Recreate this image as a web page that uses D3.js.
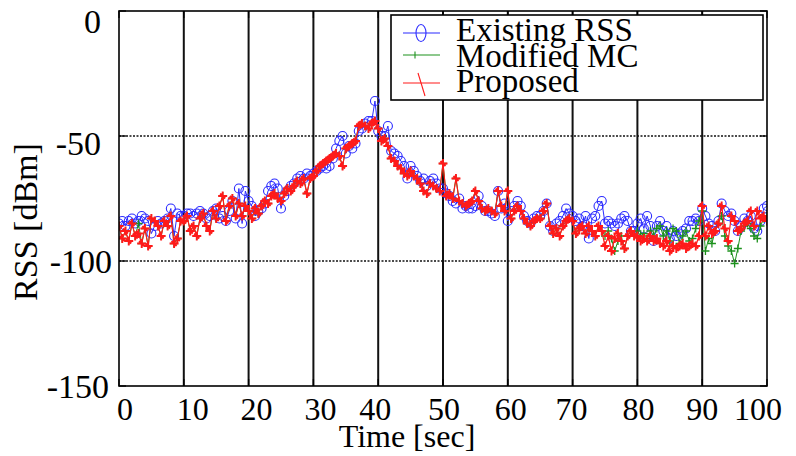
<!DOCTYPE html>
<html>
<head>
<meta charset="utf-8">
<script src="https://cdn.jsdelivr.net/npm/d3@7/dist/d3.min.js"></script>
<style>
  html, body { margin: 0; padding: 0; background: #fff; }
  svg { display: block; }
  text { font-family: "Liberation Serif", "Times New Roman", "DejaVu Serif", serif; fill: #000; }
</style>
</head>
<body>
<svg id="chart" width="796" height="456"></svg>
<script>
// RSS traces sampled every 0.5 s over 0..100 s
const xTicks = [0, 10, 20, 30, 40, 50, 60, 70, 80, 90, 100];
const yTicks = [0, -50, -100, -150];
const seriesNames = ["Existing RSS", "Modified MC", "Proposed"];

const existingRSS = [
  -85,-84,-86,-84,-83,-85,-84,-82,-83,-84,-89,-86,-84,-85,-84,-83,-79,-90,-81,-82,
  -82,-81,-81,-82,-81,-80,-81,-83,-82,-80,-79,-83,-82,-84,-80,-76,-83,-71,-85,-72,
  -76,-78,-82,-80,-79,-77,-72,-70,-69,-71,-79,-74,-72,-70,-69,-67,-66,-67,-65,-66,
  -65,-64,-63,-62,-63,-62,-59,-55,-52,-50,-57,-54,-55,-53,-48,-47,-45,-44,-44,-36,
  -48,-50,-50,-46,-56,-57,-58,-60,-62,-67,-62,-64,-66,-68,-67,-70,-68,-67,-69,-71,
  -71,-73,-74,-76,-77,-75,-79,-78,-79,-79,-78,-74,-78,-80,-80,-81,-82,-72,-79,-77,
  -84,-80,-78,-76,-78,-82,-84,-85,-83,-82,-82,-80,-77,-86,-88,-85,-84,-82,-79,-81,
  -82,-84,-83,-86,-82,-91,-83,-82,-78,-76,-85,-84,-85,-86,-85,-83,-82,-84,-88,-88,
  -85,-83,-87,-82,-86,-92,-86,-84,-88,-86,-91,-88,-90,-89,-88,-87,-84,-84,-83,-84,
  -79,-82,-85,-86,-88,-84,-77,-80,-82,-81,-84,-88,-86,-83,-84,-82,-87,-88,-84,-79,-78
];

const modifiedMC = [
  -86,-91,-88,-92,-85,-90,-85,-93,-87,-94,-83,-84,-86,-90,-84,-86,-82,-93,-91,-84,
  -84,-82,-88,-86,-90,-83,-81,-86,-88,-80,-83,-78,-74,-84,-78,-75,-82,-77,-82,-78,
  -80,-83,-79,-81,-78,-76,-77,-74,-73,-75,-76,-73,-71,-72,-70,-68,-69,-67,-73,-67,
  -66,-64,-62,-61,-60,-59,-58,-57,-58,-62,-55,-54,-53,-52,-46,-45,-46,-47,-45,-44,
  -47,-52,-51,-54,-59,-60,-62,-63,-65,-66,-64,-66,-67,-69,-72,-73,-69,-70,-71,-72,
  -61,-74,-73,-75,-67,-76,-77,-78,-77,-76,-72,-76,-79,-80,-79,-80,-81,-72,-78,-80,
  -72,-83,-80,-78,-80,-83,-85,-86,-84,-83,-83,-80,-77,-86,-89,-87,-90,-86,-84,-83,
  -84,-89,-87,-86,-89,-86,-88,-90,-86,-88,-90,-88,-91,-96,-92,-90,-95,-90,-88,-90,
  -88,-90,-89,-91,-88,-90,-87,-86,-90,-88,-92,-87,-88,-93,-90,-88,-92,-91,-87,-84,
  -80,-96,-91,-93,-88,-85,-82,-90,-94,-96,-101,-95,-88,-86,-85,-87,-90,-91,-86,-83,-82
];

const proposed = [
  -86,-91,-88,-92,-85,-90,-89,-93,-87,-94,-83,-84,-86,-90,-84,-86,-82,-93,-91,-84,
  -84,-82,-88,-86,-90,-83,-81,-86,-88,-80,-83,-78,-74,-84,-78,-75,-82,-77,-82,-78,
  -80,-83,-79,-81,-78,-76,-77,-74,-73,-75,-76,-73,-71,-72,-70,-68,-69,-67,-73,-67,
  -66,-64,-62,-61,-60,-59,-58,-57,-58,-62,-55,-54,-53,-52,-46,-45,-46,-47,-45,-44,
  -47,-52,-51,-54,-59,-60,-62,-63,-65,-66,-64,-66,-67,-69,-72,-73,-69,-70,-71,-72,
  -61,-74,-73,-75,-67,-76,-77,-78,-77,-76,-72,-76,-79,-80,-79,-80,-81,-72,-78,-80,
  -72,-83,-80,-78,-80,-83,-85,-86,-84,-83,-83,-80,-77,-86,-89,-87,-90,-86,-84,-83,
  -84,-89,-87,-86,-89,-86,-88,-90,-86,-88,-94,-90,-96,-91,-89,-92,-95,-90,-88,-90,
  -90,-92,-91,-92,-90,-92,-91,-93,-94,-92,-96,-94,-95,-94,-93,-95,-94,-93,-94,-90,
  -78,-90,-86,-89,-88,-85,-78,-87,-92,-82,-84,-88,-87,-85,-84,-80,-86,-80,-83,-82,-84
];

const times = d3.range(0, 100.5, 0.5);

const svg = d3.select("#chart");
const plot = { left: 119, right: 767, top: 11, bottom: 386 };

const x = d3.scaleLinear().domain([0, 100]).range([plot.left, plot.right]);
const y = d3.scaleLinear().domain([-150, 0]).range([plot.bottom, plot.top]);

// vertical grid (solid) and horizontal grid (dotted)
svg.append("g").selectAll("line")
  .data(xTicks.slice(1, -1)).join("line")
  .attr("x1", d => x(d)).attr("x2", d => x(d))
  .attr("y1", plot.top).attr("y2", plot.bottom)
  .attr("stroke", "#111").attr("stroke-width", 2);

svg.append("g").selectAll("line")
  .data(yTicks.slice(1, -1)).join("line")
  .attr("x1", plot.left).attr("x2", plot.right)
  .attr("y1", d => y(d)).attr("y2", d => y(d))
  .attr("stroke", "#111").attr("stroke-width", 1.6)
  .attr("stroke-dasharray", "2,1.5");

// series
svg.append("clipPath").attr("id", "clip").append("rect")
  .attr("x", plot.left).attr("y", plot.top)
  .attr("width", plot.right - plot.left).attr("height", plot.bottom - plot.top);

const lineGen = d3.line().x((d, i) => x(times[i])).y(d => y(d));
const series = [
  { name: seriesNames[0], values: existingRSS, color: "#2b2bff", marker: "circle", lw: 1 },
  { name: seriesNames[1], values: modifiedMC, color: "#1d911d", marker: "plus", lw: 1 },
  { name: seriesNames[2], values: proposed, color: "#ff1a1a", marker: "star", lw: 1.2 }
];

const dataLayer = svg.append("g").attr("clip-path", "url(#clip)");

function drawMarker(g, kind, color, cx, cy) {
  if (kind === "circle") {
    g.append("circle").attr("cx", cx).attr("cy", cy).attr("r", 4.5)
      .attr("fill", "none").attr("stroke", color).attr("stroke-width", 1.1);
  } else if (kind === "plus") {
    g.append("path").attr("d", `M${cx - 4},${cy}H${cx + 4}M${cx},${cy - 4}V${cy + 4}`)
      .attr("stroke", color).attr("stroke-width", 1.3).attr("fill", "none");
  } else {
    g.append("path").attr("d",
      `M${cx - 4.5},${cy}H${cx + 4.5}M${cx},${cy - 4.5}V${cy + 4.5}M${cx - 2.5},${cy - 2.5}L${cx + 2.5},${cy + 2.5}`)
      .attr("stroke", color).attr("stroke-width", 1.9).attr("fill", "none");
  }
}

series.forEach(s => {
  const g = dataLayer.append("g");
  g.append("path").datum(s.values)
    .attr("d", lineGen).attr("fill", "none")
    .attr("stroke", s.color).attr("stroke-width", s.lw);
  s.values.forEach((v, i) => drawMarker(g, s.marker, s.color, x(times[i]), y(v)));
});

// frame and inward ticks
svg.append("rect")
  .attr("x", plot.left).attr("y", plot.top)
  .attr("width", plot.right - plot.left).attr("height", plot.bottom - plot.top)
  .attr("fill", "none").attr("stroke", "#000").attr("stroke-width", 1.6);

const tickLen = 7;
const tickG = svg.append("g").attr("stroke", "#000").attr("stroke-width", 1.3);
xTicks.forEach(t => {
  tickG.append("line").attr("x1", x(t)).attr("x2", x(t)).attr("y1", plot.bottom).attr("y2", plot.bottom - tickLen);
  tickG.append("line").attr("x1", x(t)).attr("x2", x(t)).attr("y1", plot.top).attr("y2", plot.top + tickLen);
});
yTicks.forEach(t => {
  tickG.append("line").attr("x1", plot.left).attr("x2", plot.left + tickLen).attr("y1", y(t)).attr("y2", y(t));
  tickG.append("line").attr("x1", plot.right).attr("x2", plot.right - tickLen).attr("y1", y(t)).attr("y2", y(t));
});

// tick labels
const fontSize = 34;
const smallFont = 32;
const xLabelShift = [6, 9, 8, 7, -3, 1, 3, -1, 1, 0, -9];
svg.append("g").selectAll("text")
  .data(xTicks).join("text")
  .attr("x", (d, i) => x(d) + xLabelShift[i])
  .attr("y", 420)
  .attr("text-anchor", "middle")
  .attr("font-size", smallFont)
  .text(d => d);

const yLabelEnd = [101, 101, 112, 109];
const yLabelShift = [10, 7, 0, 0];
svg.append("g").selectAll("text")
  .data(yTicks).join("text")
  .attr("x", (d, i) => yLabelEnd[i])
  .attr("y", (d, i) => y(d) + yLabelShift[i] + 11.5)
  .attr("text-anchor", "end")
  .attr("font-size", fontSize)
  .text(d => d);

// axis titles
svg.append("text")
  .attr("x", 407)
  .attr("y", 447)
  .attr("text-anchor", "middle")
  .attr("font-size", smallFont)
  .text("Time [sec]");

svg.append("text")
  .attr("transform", "translate(37,222) rotate(-90)")
  .attr("text-anchor", "middle")
  .attr("font-size", fontSize)
  .text("RSS [dBm]");

// legend
const legend = svg.append("g");
legend.append("rect")
  .attr("x", 391).attr("y", 15).attr("width", 372).attr("height", 85)
  .attr("fill", "#fff").attr("stroke", "#000").attr("stroke-width", 1.6);

const legendRows = [
  { baseline: 41, lineY: 33 },
  { baseline: 67, lineY: 55 },
  { baseline: 92, lineY: 83 }
];
series.forEach((s, i) => {
  const r = legendRows[i];
  legend.append("line")
    .attr("x1", 403).attr("x2", 440).attr("y1", r.lineY).attr("y2", r.lineY)
    .attr("stroke", s.color).attr("stroke-width", 1.1);
  if (s.marker === "circle") {
    legend.append("ellipse").attr("cx", 421).attr("cy", r.lineY)
      .attr("rx", 5).attr("ry", 8.5)
      .attr("fill", "none").attr("stroke", s.color).attr("stroke-width", 1.1);
  } else if (s.marker === "plus") {
    legend.append("line").attr("x1", 415).attr("x2", 415)
      .attr("y1", r.lineY - 3.5).attr("y2", r.lineY + 3.5)
      .attr("stroke", s.color).attr("stroke-width", 1.1);
  } else {
    legend.append("line").attr("x1", 418).attr("x2", 425)
      .attr("y1", r.lineY - 10).attr("y2", r.lineY + 13)
      .attr("stroke", s.color).attr("stroke-width", 1.1);
  }
  legend.append("text")
    .attr("x", 456).attr("y", r.baseline)
    .attr("font-size", 33)
    .text(s.name);
});
</script>
</body>
</html>
